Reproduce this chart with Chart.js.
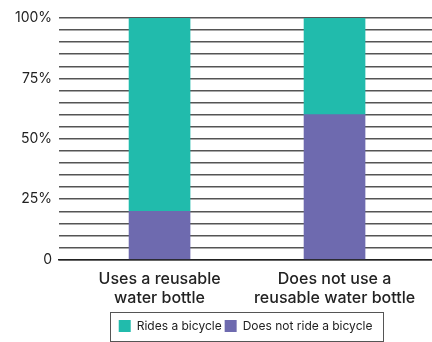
<!DOCTYPE html>
<html>
<head>
<meta charset="utf-8">
<script src="https://cdn.jsdelivr.net/npm/chart.js@4.4.1/dist/chart.umd.min.js"></script>
<style>
  html, body { margin: 0; padding: 0; background: #fff; }
  #wrap { width: 432px; height: 342px; }
</style>
</head>
<body>
<div id="wrap"><canvas id="bottles"></canvas></div>
<script>
const categories = [['Uses a reusable', 'water bottle'], ['Does not use a', 'reusable water bottle']];
const ridesBicycle = [80, 40];
const noBicycle = [20, 60];
const yTickLabels = { 0: '0', 25: '25%', 50: '50%', 75: '75%', 100: '100%' };

const FONT = 'Inter, "DejaVu Sans", sans-serif';

// box round the legend, sized from the legend's own hitboxes
const legendFrame = {
  id: 'legendFrame',
  afterDraw(chart) {
    const boxes = chart.legend.legendHitBoxes;
    if (!boxes || !boxes.length) return;
    const left = Math.min(...boxes.map(b => b.left)) - 9;
    const right = Math.max(...boxes.map(b => b.left + b.width)) + 10;
    const top = Math.min(...boxes.map(b => b.top)) - 8;
    const bottom = Math.max(...boxes.map(b => b.top + b.height)) + 9;
    const ctx = chart.ctx;
    ctx.save();
    ctx.strokeStyle = '#555';
    ctx.lineWidth = 1;
    ctx.strokeRect(Math.round(left) + 0.5, Math.round(top) + 0.5, Math.round(right - left), Math.round(bottom - top));
    ctx.restore();
  }
};

const ctx = document.getElementById('bottles').getContext('2d');
const chart = new Chart(ctx, {
  type: 'bar',
  data: {
    datasets: [
      {
        label: 'Does not ride a bicycle',
        data: noBicycle.map((v, i) => ({ x: i, y: v })),
        backgroundColor: '#6e6aaf'
      },
      {
        label: 'Rides a bicycle',
        data: ridesBicycle.map((v, i) => ({ x: i, y: v })),
        backgroundColor: '#21bbac'
      }
    ]
  },
  options: {
    responsive: true,
    maintainAspectRatio: false,
    animation: false,
    barThickness: 61,
    layout: { padding: { left: 8, right: 0, top: 18, bottom: 0 } },
    plugins: {
      tooltip: { enabled: false },
      legend: {
        position: 'bottom',
        reverse: true,
        fullSize: false,
        labels: {
          boxWidth: 12,
          boxHeight: 12,
          padding: 3,
          color: '#222',
          font: { family: FONT, size: 12 }
        }
      }
    },
    scales: {
      x: {
        type: 'linear',
        stacked: true,
        offset: false,
        min: -0.574,
        max: 1.557,
        grid: { display: false },
        border: { display: true, color: '#222', width: 1.5 },
        // empty title, only used as a spacer above the legend
        title: { display: true, text: '', font: { size: 1, lineHeight: 1 }, padding: { top: 0, bottom: 6 } },
        ticks: {
          stepSize: 1,
          includeBounds: false,
          autoSkip: false,
          maxRotation: 0,
          padding: 2,
          color: '#222',
          font: { family: FONT, size: 16, weight: '500', lineHeight: 1.2 },
          callback: v => categories[v] || ''
        }
      },
      y: {
        stacked: true,
        min: 0,
        max: 100,
        grid: { color: '#555', lineWidth: 1.5, drawTicks: false },
        border: { display: false },
        ticks: {
          stepSize: 5,
          autoSkip: false,
          padding: 7,
          color: '#222',
          font: { family: FONT, size: 14 },
          callback: v => yTickLabels[v] || ''
        }
      }
    }
  },
  plugins: [legendFrame]
});
</script>
</body>
</html>
